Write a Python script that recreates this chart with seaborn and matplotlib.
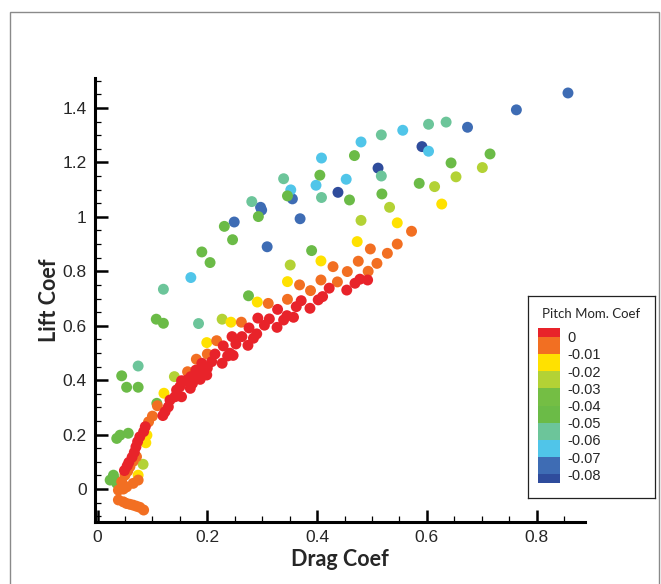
import numpy as np
import pandas as pd
import matplotlib
matplotlib.use("Agg")
import matplotlib.pyplot as plt
import matplotlib.colors as mcolors
from matplotlib.patches import Rectangle
from matplotlib.ticker import MultipleLocator, FuncFormatter
import seaborn as sns

# pitch moment levels (bin centres) and their contour colours
levels = [0.002, -0.005, -0.015, -0.025, -0.035, -0.045, -0.055, -0.065, -0.075, -0.083]
level_colors = ["#E8232A", "#F26F22", "#FFE100", "#B3D235", "#74BE44",
                "#6BBB47", "#6CC59A", "#50C5E9", "#3E6CB4", "#2F4C9C"]
bounds = [-0.085, -0.08, -0.07, -0.06, -0.05, -0.04, -0.03, -0.02, -0.01, 0.0, 0.005]
bar_ticks = [0, -0.01, -0.02, -0.03, -0.04, -0.05, -0.06, -0.07, -0.08]

# red points (Cm ~ 0)
drag_red = [0.328, 0.345, 0.362, 0.371, 0.387, 0.402, 0.410, 0.422, 0.454, 0.469, 0.478, 0.492,
            0.357, 0.339, 0.292, 0.313, 0.304, 0.327, 0.276, 0.290, 0.284, 0.263, 0.245, 0.252,
            0.274, 0.229, 0.241, 0.247, 0.214, 0.237, 0.227, 0.208, 0.200, 0.190, 0.179, 0.199,
            0.186, 0.187, 0.170, 0.164, 0.153, 0.169, 0.150, 0.144, 0.153, 0.141, 0.132, 0.129,
            0.123, 0.119, 0.173, 0.163, 0.087, 0.084, 0.077, 0.073, 0.070, 0.067, 0.063, 0.057,
            0.054, 0.049]
lift_red = [0.660, 0.637, 0.670, 0.692, 0.664, 0.695, 0.707, 0.738, 0.731, 0.756, 0.771, 0.768,
            0.631, 0.621, 0.628, 0.625, 0.602, 0.594, 0.592, 0.570, 0.554, 0.560, 0.560, 0.533,
            0.528, 0.526, 0.499, 0.491, 0.496, 0.489, 0.462, 0.468, 0.444, 0.462, 0.437, 0.419,
            0.427, 0.403, 0.413, 0.394, 0.398, 0.370, 0.376, 0.364, 0.339, 0.339, 0.327, 0.302,
            0.284, 0.270, 0.388, 0.401, 0.229, 0.211, 0.192, 0.174, 0.155, 0.135, 0.117, 0.098,
            0.085, 0.068]

# orange points
drag_orange = [0.368, 0.388, 0.407, 0.311, 0.346, 0.262, 0.217, 0.200, 0.180, 0.164, 0.109, 0.100,
               0.093, 0.572, 0.497, 0.546, 0.528, 0.509, 0.493, 0.475, 0.455, 0.437, 0.429,
               0.071, 0.065, 0.059, 0.055, 0.050, 0.044, 0.038, 0.047, 0.053, 0.065, 0.074,
               0.038, 0.047, 0.053, 0.059, 0.065, 0.071, 0.077, 0.084]
lift_orange = [0.750, 0.729, 0.768, 0.682, 0.697, 0.613, 0.545, 0.496, 0.477, 0.431, 0.306, 0.268,
               0.247, 0.947, 0.882, 0.900, 0.866, 0.829, 0.800, 0.837, 0.799, 0.761, 0.817,
               0.119, 0.102, 0.082, 0.066, 0.051, 0.027, -0.004, 0.000, 0.008, 0.021, 0.033,
               -0.040, -0.047, -0.053, -0.056, -0.059, -0.063, -0.067, -0.077]

drag_yellow = [0.346, 0.407, 0.291, 0.243, 0.199, 0.121, 0.627, 0.546, 0.473, 0.090, 0.074, 0.088]
lift_yellow = [0.762, 0.838, 0.687, 0.613, 0.538, 0.352, 1.047, 0.978, 0.909, 0.198, 0.051, 0.170]

drag_yg = [0.351, 0.227, 0.140, 0.532, 0.480, 0.653, 0.701, 0.614, 0.083]
lift_yg = [0.823, 0.624, 0.413, 1.035, 0.987, 1.147, 1.181, 1.111, 0.091]

drag_green = [0.190, 0.205, 0.231, 0.246, 0.293, 0.346, 0.390, 0.405, 0.275, 0.468, 0.715, 0.644,
              0.459, 0.586, 0.518, 0.107, 0.120, 0.044, 0.053, 0.074, 0.108, 0.035, 0.041, 0.056,
              0.023, 0.032, 0.035, 0.029]
lift_green = [0.871, 0.832, 0.965, 0.916, 1.001, 1.077, 0.876, 1.153, 0.710, 1.225, 1.231, 1.198,
              1.062, 1.123, 1.084, 0.624, 0.609, 0.416, 0.374, 0.374, 0.315, 0.186, 0.198, 0.205,
              0.033, 0.033, 0.021, 0.051]

drag_teal = [0.120, 0.281, 0.339, 0.408, 0.635, 0.603, 0.517, 0.517, 0.184, 0.074]
lift_teal = [0.734, 1.056, 1.140, 1.071, 1.348, 1.340, 1.301, 1.150, 0.608, 0.452]

drag_cyan = [0.170, 0.352, 0.408, 0.398, 0.556, 0.480, 0.603, 0.453]
lift_cyan = [0.777, 1.099, 1.216, 1.116, 1.318, 1.275, 1.241, 1.138]

drag_blue = [0.857, 0.763, 0.674, 0.249, 0.297, 0.299, 0.309, 0.355, 0.369]
lift_blue = [1.455, 1.393, 1.329, 0.981, 1.035, 1.025, 0.890, 1.066, 0.993]

drag_dblue = [0.591, 0.511, 0.438]
lift_dblue = [1.258, 1.179, 1.090]

groups = [
    (levels[9], drag_dblue, lift_dblue),
    (levels[8], drag_blue, lift_blue),
    (levels[7], drag_cyan, lift_cyan),
    (levels[6], drag_teal, lift_teal),
    (levels[5], drag_green, lift_green),
    (levels[3], drag_yg, lift_yg),
    (levels[2], drag_yellow, lift_yellow),
    (levels[1], drag_orange, lift_orange),
    (levels[0], drag_red, lift_red),
]
frames = [pd.DataFrame({"drag": d, "lift": l, "cm": cm}) for cm, d, l in groups]
df = pd.concat(frames, ignore_index=True)

sns.set_style("white")
plt.rcParams["font.family"] = ["Liberation Sans", "DejaVu Sans"]
plt.rcParams["axes.unicode_minus"] = False

fig = plt.figure(figsize=(6.61, 5.84), dpi=100)
ax = fig.add_axes([95 / 661, 62 / 584, 490 / 661, 444 / 584])

palette = dict(zip(levels, level_colors))
sns.scatterplot(data=df, x="drag", y="lift", hue="cm", palette=palette,
                s=62, linewidth=0, legend=False, ax=ax, zorder=3)

ax.set_xlim(-0.0046, 0.888)
ax.set_ylim(-0.121, 1.51)
ax.xaxis.set_major_locator(MultipleLocator(0.2))
ax.xaxis.set_minor_locator(MultipleLocator(0.05))
ax.yaxis.set_major_locator(MultipleLocator(0.2))
ax.yaxis.set_minor_locator(MultipleLocator(0.05))
fmt = FuncFormatter(lambda v, p: f"{v:g}" if abs(v) > 1e-9 else "0")
ax.xaxis.set_major_formatter(fmt)
ax.yaxis.set_major_formatter(fmt)
ax.tick_params(which="both", bottom=True, left=True, top=False, right=False)
ax.tick_params(which="major", direction="in", length=9, width=1.8, labelsize=12.5, pad=6,
               color="black")
ax.tick_params(which="minor", direction="in", length=4.5, width=0.9, color="black")
for side in ["top", "right"]:
    ax.spines[side].set_visible(False)
for side in ["left", "bottom"]:
    ax.spines[side].set_linewidth(2.2)
    ax.spines[side].set_color("black")

ax.set_xlabel("Drag Coef", fontsize=15.5, fontweight="bold", family=["Lato", "DejaVu Sans"], labelpad=3)
ax.set_ylabel("Lift Coef", fontsize=15.5, fontweight="bold", family=["Lato", "DejaVu Sans"], labelpad=2)

# legend frame + contour colour bar
leg_ax = fig.add_axes([528 / 661, 86 / 584, 127 / 661, 202 / 584])
leg_ax.set_xticks([])
leg_ax.set_yticks([])
for s in leg_ax.spines.values():
    s.set_linewidth(0.9)
    s.set_color("#222222")
leg_ax.text(0.5, 0.91, "Pitch Mom. Coef", ha="center", va="center", fontsize=9.5,
            family=["Lato", "DejaVu Sans"], transform=leg_ax.transAxes)

cmap = mcolors.ListedColormap(level_colors[::-1])
norm = mcolors.BoundaryNorm(bounds, cmap.N)
cax = fig.add_axes([538 / 661, 101 / 584, 22 / 661, 155 / 584])
cb = fig.colorbar(plt.cm.ScalarMappable(norm=norm, cmap=cmap), cax=cax,
                  boundaries=bounds, spacing="proportional", ticks=bar_ticks)
cb.outline.set_visible(False)
cb.ax.minorticks_off()
cb.ax.set_yticklabels([f"{t:g}" if t != 0 else "0" for t in bar_ticks])
cb.ax.tick_params(length=0, labelsize=10.5, pad=5)

# outer grey frame
fig.patches.append(Rectangle((10 / 661, -0.05), 649 / 661, (584 - 12) / 584 + 0.05,
                             transform=fig.transFigure, fill=False,
                             edgecolor="#8a8a8a", linewidth=1.0))

fig.savefig("out.png", dpi=100)
